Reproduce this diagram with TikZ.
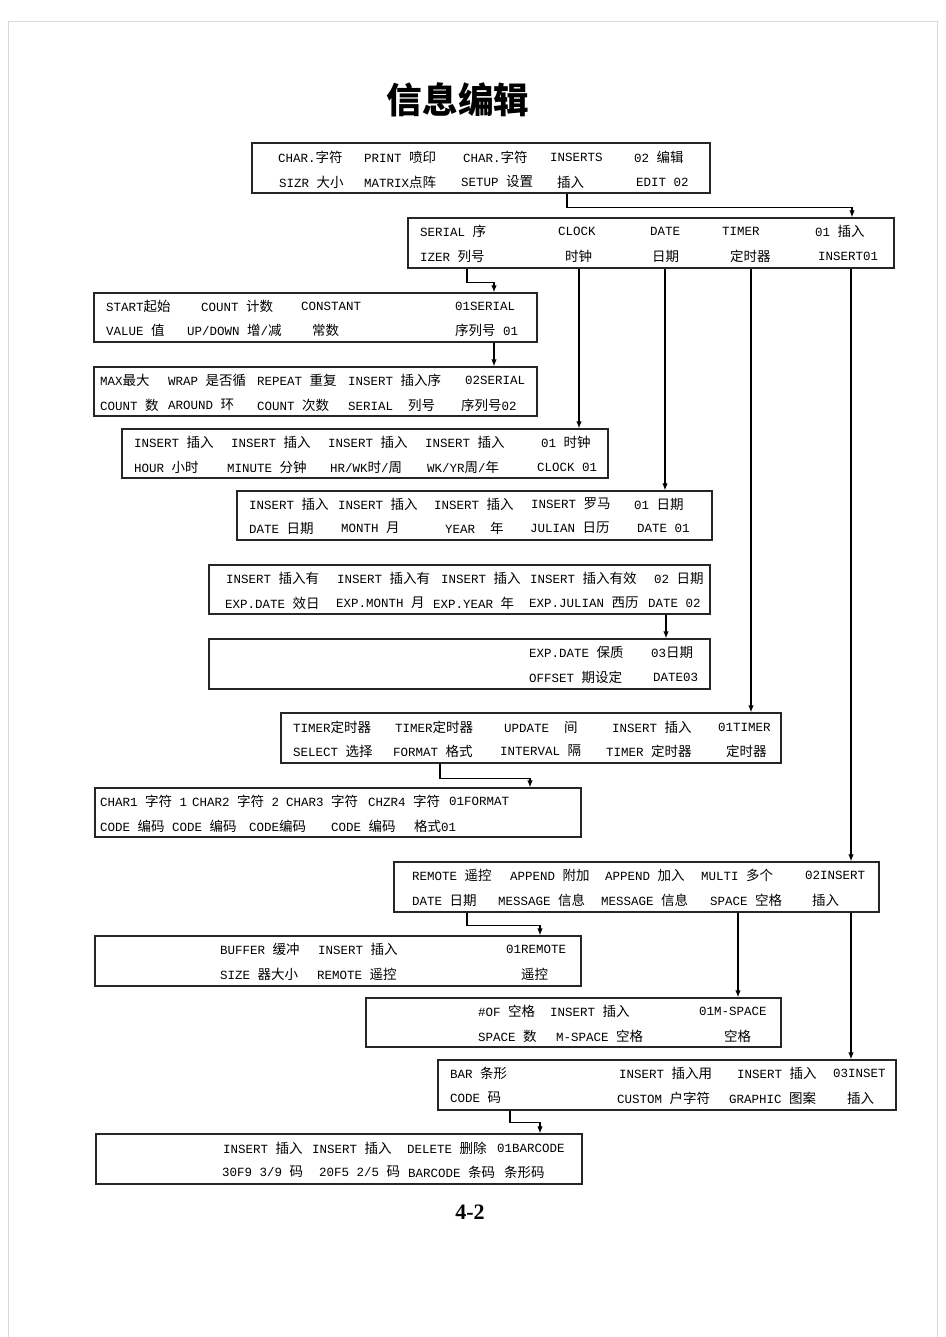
\documentclass[tikz,border=0pt]{standalone}
\usepackage{fontspec}
\setmainfont{Liberation Mono}
\newfontfamily\latin{Liberation Mono}
\newfontfamily\cjk{Noto Sans CJK SC}[Scale=1.08]
\newfontfamily\pagefont{Liberation Serif}
\usetikzlibrary{arrows}
\usetikzlibrary{arrows.meta}
\usetikzlibrary{positioning}

% Chinese characters switch to the CJK font by themselves
\XeTeXinterchartokenstate=1
\chardef\cjkclass=1
\newcount\cjkcode
\cjkcode="4E00
\loop
  \XeTeXcharclass\cjkcode=\cjkclass
  \advance\cjkcode by 1
\ifnum\cjkcode<"A000 \repeat
\XeTeXinterchartoks 0 \cjkclass = {\cjk}
\XeTeXinterchartoks 4095 \cjkclass = {\cjk}
\XeTeXinterchartoks \cjkclass 0 = {\latin}
\XeTeXinterchartoks \cjkclass 4095 = {\latin}

\tikzset{panel/.style = {draw = black!85, line width = 1.2pt, inner sep = 0}}
\tikzset{lbl/.style = {anchor = west, inner sep = 0, font = \fontsize{12.5}{14}\selectfont}}
\tikzset{arr/.style = {-{Latex[length = 7pt, width = 5.5pt]}, line width = 1.3pt}}

\begin{document}
\begin{tikzpicture}[x = 1pt, y = -1pt]
      \useasboundingbox (0, 0) rectangle (945, 1337);
      \draw [black!15, line width = 1pt] (8, 1337) -- (8, 22) -- (937, 22) -- (937, 1337);

      \node (title) at (458, 100) {\fontsize{33}{40}\selectfont\bfseries 信息编辑};
      \node (pgno) at (470, 1212) {\pagefont\fontsize{22}{26}\selectfont\bfseries 4-2};

      \node [panel, minimum width = 458, minimum height = 50] (edit) at (481, 168) {};
      \foreach \x/\t [count = \i] in {278/CHAR.字符, 364/PRINT 喷印, 463/CHAR.字符, 550/INSERTS, 634/02 编辑}
        \node [lbl] (edit-a\i) at (\x, 157) {\t};
      \foreach \x/\t [count = \i] in {279/SIZR 大小, 364/MATRIX点阵, 461/SETUP 设置, 557/插入, 636/EDIT 02}
        \node [lbl] (edit-b\i) at (\x, 182) {\t};

      \node [panel, minimum width = 486, minimum height = 50] (ins) at (651, 243) {};
      \foreach \x/\t [count = \i] in {420/SERIAL 序, 558/CLOCK, 650/DATE, 722/TIMER, 815/01 插入}
        \node [lbl] (ins-a\i) at (\x, 231) {\t};
      \foreach \x/\t [count = \i] in {420/IZER 列号, 565/时钟, 652/日期, 730/定时器, 818/INSERT01}
        \node [lbl] (ins-b\i) at (\x, 256) {\t};

      \node [panel, minimum width = 443, minimum height = 49] (ser1) at (315.5, 317.5) {};
      \foreach \x/\t [count = \i] in {106/START起始, 201/COUNT 计数, 301/CONSTANT, 455/01SERIAL}
        \node [lbl] (ser1-a\i) at (\x, 306) {\t};
      \foreach \x/\t [count = \i] in {106/VALUE 值, 187/{UP/DOWN 增/减}, 312/常数, 455/序列号 01}
        \node [lbl] (ser1-b\i) at (\x, 330) {\t};

      \node [panel, minimum width = 443, minimum height = 49] (ser2) at (315.5, 391.5) {};
      \foreach \x/\t [count = \i] in {100/MAX最大, 168/WRAP 是否循, 257/REPEAT 重复, 348/INSERT 插入序, 465/02SERIAL}
        \node [lbl] (ser2-a\i) at (\x, 380) {\t};
      \foreach \x/\t [count = \i] in {100/COUNT 数, 168/AROUND 环, 257/COUNT 次数, 348/SERIAL\ \ 列号, 461/序列号02}
        \node [lbl] (ser2-b\i) at (\x, 405) {\t};

      \node [panel, minimum width = 486, minimum height = 49] (clk) at (365, 453.5) {};
      \foreach \x/\t [count = \i] in {134/INSERT 插入, 231/INSERT 插入, 328/INSERT 插入, 425/INSERT 插入, 541/01 时钟}
        \node [lbl] (clk-a\i) at (\x, 442) {\t};
      \foreach \x/\t [count = \i] in {134/HOUR 小时, 227/MINUTE 分钟, 330/{HR/WK时/周}, 427/{WK/YR周/年}, 537/CLOCK 01}
        \node [lbl] (clk-b\i) at (\x, 467) {\t};

      \node [panel, minimum width = 475, minimum height = 49] (dt1) at (474.5, 515.5) {};
      \foreach \x/\t [count = \i] in {249/INSERT 插入, 338/INSERT 插入, 434/INSERT 插入, 531/INSERT 罗马, 634/01 日期}
        \node [lbl] (dt1-a\i) at (\x, 504) {\t};
      \foreach \x/\t [count = \i] in {249/DATE 日期, 341/MONTH 月, 445/YEAR\ \ 年, 530/JULIAN 日历, 637/DATE 01}
        \node [lbl] (dt1-b\i) at (\x, 528) {\t};

      \node [panel, minimum width = 501, minimum height = 49] (dt2) at (459.5, 589.5) {};
      \foreach \x/\t [count = \i] in {226/INSERT 插入有, 337/INSERT 插入有, 441/INSERT 插入, 530/INSERT 插入有效, 654/02 日期}
        \node [lbl] (dt2-a\i) at (\x, 578) {\t};
      \foreach \x/\t [count = \i] in {225/EXP.DATE 效日, 336/EXP.MONTH 月, 433/EXP.YEAR 年, 529/EXP.JULIAN 西历, 648/DATE 02}
        \node [lbl] (dt2-b\i) at (\x, 603) {\t};

      \node [panel, minimum width = 501, minimum height = 50] (dt3) at (459.5, 664) {};
      \foreach \x/\t [count = \i] in {529/EXP.DATE 保质, 651/03日期}
        \node [lbl] (dt3-a\i) at (\x, 652) {\t};
      \foreach \x/\t [count = \i] in {529/OFFSET 期设定, 653/DATE03}
        \node [lbl] (dt3-b\i) at (\x, 677) {\t};

      \node [panel, minimum width = 500, minimum height = 50] (tmr) at (531, 738) {};
      \foreach \x/\t [count = \i] in {293/TIMER定时器, 395/TIMER定时器, 504/UPDATE\ \ 间, 612/INSERT 插入, 718/01TIMER}
        \node [lbl] (tmr-a\i) at (\x, 727) {\t};
      \foreach \x/\t [count = \i] in {293/SELECT 选择, 393/FORMAT 格式, 500/INTERVAL 隔, 606/TIMER 定时器, 726/定时器}
        \node [lbl] (tmr-b\i) at (\x, 751) {\t};

      \node [panel, minimum width = 486, minimum height = 49] (fmt) at (338, 812.5) {};
      \foreach \x/\t [count = \i] in {100/CHAR1 字符 1, 192/CHAR2 字符 2, 286/CHAR3 字符, 368/CHZR4 字符, 449/01FORMAT}
        \node [lbl] (fmt-a\i) at (\x, 801) {\t};
      \foreach \x/\t [count = \i] in {100/CODE 编码, 172/CODE 编码, 249/CODE编码, 331/CODE 编码, 414/格式01}
        \node [lbl] (fmt-b\i) at (\x, 826) {\t};

      \node [panel, minimum width = 485, minimum height = 50] (ins2) at (636.5, 887) {};
      \foreach \x/\t [count = \i] in {412/REMOTE 遥控, 510/APPEND 附加, 605/APPEND 加入, 701/MULTI 多个, 805/02INSERT}
        \node [lbl] (ins2-a\i) at (\x, 875) {\t};
      \foreach \x/\t [count = \i] in {412/DATE 日期, 498/MESSAGE 信息, 601/MESSAGE 信息, 710/SPACE 空格, 812/插入}
        \node [lbl] (ins2-b\i) at (\x, 900) {\t};

      \node [panel, minimum width = 486, minimum height = 50] (rmt) at (338, 961) {};
      \foreach \x/\t [count = \i] in {220/BUFFER 缓冲, 318/INSERT 插入, 506/01REMOTE}
        \node [lbl] (rmt-a\i) at (\x, 949) {\t};
      \foreach \x/\t [count = \i] in {220/SIZE 器大小, 317/REMOTE 遥控, 521/遥控}
        \node [lbl] (rmt-b\i) at (\x, 974) {\t};

      \node [panel, minimum width = 415, minimum height = 49] (msp) at (573.5, 1022.5) {};
      \foreach \x/\t [count = \i] in {478/\#OF 空格, 550/INSERT 插入, 699/01M-SPACE}
        \node [lbl] (msp-a\i) at (\x, 1011) {\t};
      \foreach \x/\t [count = \i] in {478/SPACE 数, 556/M-SPACE 空格, 724/空格}
        \node [lbl] (msp-b\i) at (\x, 1036) {\t};

      \node [panel, minimum width = 458, minimum height = 50] (inset) at (667, 1085) {};
      \foreach \x/\t [count = \i] in {450/BAR 条形, 619/INSERT 插入用, 737/INSERT 插入, 833/03INSET}
        \node [lbl] (inset-a\i) at (\x, 1073) {\t};
      \foreach \x/\t [count = \i] in {450/CODE 码, 617/CUSTOM 户字符, 729/GRAPHIC 图案, 847/插入}
        \node [lbl] (inset-b\i) at (\x, 1098) {\t};

      \node [panel, minimum width = 486, minimum height = 50] (bar) at (339, 1159) {};
      \foreach \x/\t [count = \i] in {223/INSERT 插入, 312/INSERT 插入, 407/DELETE 删除, 497/01BARCODE}
        \node [lbl] (bar-a\i) at (\x, 1148) {\t};
      \foreach \x/\t [count = \i] in {222/{30F9 3/9 码}, 319/{20F5 2/5 码}, 408/BARCODE 条码, 504/条形码}
        \node [lbl] (bar-b\i) at (\x, 1172) {\t};

      \draw [arr] ([xshift = 86]edit.south) -- ++(0, 14) -| ([xshift = 201]ins.north);
      \draw [arr] ([xshift = -184]ins.south) -- ++(0, 14) -| ([xshift = 178.5]ser1.north);
      \draw [arr] ([xshift = 178.5]ser1.south) -- ([xshift = 178.5]ser2.north);
      \draw [arr] ([xshift = -72]ins.south) -- ([xshift = 214]clk.north);
      \draw [arr] ([xshift = 14]ins.south) -- ([xshift = 190.5]dt1.north);
      \draw [arr] ([xshift = 206.5]dt2.south) -- ([xshift = 206.5]dt3.north);
      \draw [arr] ([xshift = 100]ins.south) -- ([xshift = 220]tmr.north);
      \draw [arr] ([xshift = -91]tmr.south) -- ++(0, 15) -| ([xshift = 192]fmt.north);
      \draw [arr] ([xshift = 200]ins.south) -- ([xshift = 214.5]ins2.north);
      \draw [arr] ([xshift = -169.5]ins2.south) -- ++(0, 13) -| ([xshift = 202]rmt.north);
      \draw [arr] ([xshift = 101.5]ins2.south) -- ([xshift = 164.5]msp.north);
      \draw [arr] ([xshift = 214.5]ins2.south) -- ([xshift = 184]inset.north);
      \draw [arr] ([xshift = -157]inset.south) -- ++(0, 12) -| ([xshift = 201]bar.north);
\end{tikzpicture}
\end{document}
